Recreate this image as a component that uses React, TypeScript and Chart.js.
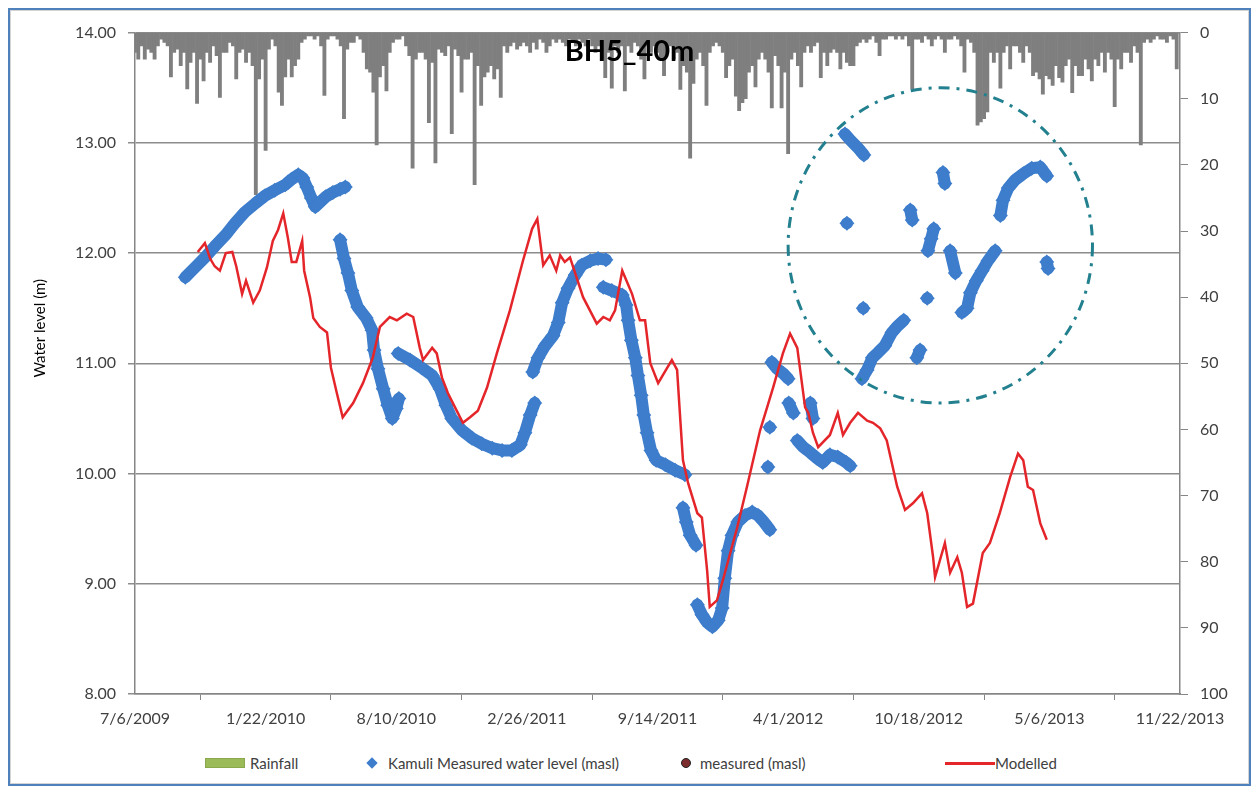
import React, { useEffect, useRef } from "react";
import { Chart, registerables } from "chart.js";

Chart.register(...registerables);

// ---------- DATA ----------
// x values are days since 7/6/2009
const xTickLabels = ["7/6/2009", "1/22/2010", "8/10/2010", "2/26/2011", "9/14/2011", "4/1/2012", "10/18/2012", "5/6/2013", "11/22/2013"];
const xTickStepDays = 200;
const xMaxDay = 1600;

const leftTicksMin = 8;
const leftTicksMax = 14;
const rightTicksMin = 0;
const rightTicksMax = 100;

// Rainfall (mm), one bar every 5 days from 7/6/2009
const rainStepDays = 5;
const rainfall = [
  3, 4, 2, 4, 2.5, 3, 4, 2, 1, 1.5,
  2, 6.7, 3, 2.5, 5, 3, 8.5, 4.5, 3, 10.7,
  4, 7.3, 3, 4.5, 2, 3.5, 9.8, 3, 3, 1.5,
  2, 7, 3, 2.5, 4.5, 3, 5, 24.5, 7, 4,
  17.8, 2.5, 1, 2, 9, 11, 6.7, 4, 6.7, 5,
  4, 1.5, 1, 0.5, 0.5, 1, 0.5, 2, 9.5, 1,
  0.5, 0.5, 1, 2, 13, 2.5, 1.5, 1.5, 0.5, 1,
  3, 5.5, 6, 9, 17, 6.7, 5, 8.8, 3, 1.5,
  1, 1, 0.5, 2, 3.5, 20.5, 4, 3, 3, 4,
  13.6, 4.5, 19.7, 2.5, 3, 3.5, 2, 15.3, 2.5, 3.5,
  9, 4, 4, 3, 23, 5, 11, 6.7, 6, 5,
  7, 5.5, 9.8, 2, 3, 2, 1.5, 2.5, 2, 1.5,
  2, 3, 1.5, 2.5, 1, 1.5, 3, 2, 1, 1.5,
  1, 1.5, 2, 1, 1.5, 2, 1, 1.5, 2, 1,
  2, 3, 2, 4, 6.8, 3, 8.4, 2, 3, 2,
  8.8, 2, 3, 1.5, 2, 4, 7, 2, 3, 2,
  3, 4, 6.5, 3, 2, 4, 3, 8.6, 5, 6,
  19, 7.7, 4, 3, 5, 11, 3, 2, 1.5, 2,
  3, 6.8, 5, 4, 9.6, 11.8, 10.6, 10, 6, 5,
  8.2, 4, 3, 4, 6, 11.4, 3.5, 5, 11.4, 6,
  18.3, 4, 3, 5, 8.2, 3, 2, 3, 2, 1.5,
  6.8, 3, 5, 3, 2.5, 3, 5.5, 3, 4.5, 5,
  5, 2, 1.5, 1, 1.5, 1, 0.5, 1.5, 3.5, 1,
  1, 0.5, 0.5, 1, 0.5, 1, 0.5, 2, 8.5, 1,
  1, 1.5, 0.5, 1, 2, 1, 0.5, 1, 3, 1,
  1, 0.5, 1, 2, 6, 1, 1.5, 3, 14, 13.5,
  13, 12, 3, 4.5, 3, 8.4, 3, 2, 5.5, 2,
  2, 3, 4.5, 2, 3, 6.5, 6, 7, 9.3, 6.5,
  7, 8, 5, 6.8, 7.5, 5, 4, 9.1, 5, 6.5,
  6.5, 4, 5.5, 7.3, 4, 5, 3, 6, 3, 4,
  11.2, 4, 5.5, 3, 3, 4.5, 2, 3, 17, 1.5,
  1, 1.5, 1, 0.5, 1, 1, 1.5, 0.5, 1, 5.5,
];

// Kamuli measured water level (masl); null = gap in the record
const measuredDays: (number | null)[] = [
  77, 92, 107, 122, 138, 153, 168, 184, 199, 214, 230, 240, 250, 257, 263, 270, 276, 283, 292, 303, 314, 322, null,
  314, 320, 326, 332, 341, 354, 363, 366, 372, 380, 387, 394, 400, 404, null,
  403, 421, 439, 455, 467, 476, 485, 501, 516, 531, 547, 562, 577, 590, 597, 605, 612, null,
  609, 617, 628, 640, 648, 654, 663, 674, 684, 697, 709, 721, null,
  717, 730, 746, 752, 755, 760, 766, 770, 775, 779, 784, 790, 798, 812, 827, 842, null,
  839, 844, 850, 859, null,
  861, 868, 876, 884, 893, 899, 903, 908, 914, 923, 934, 945, 954, 963, 972, null,
  975, 983, 992, 1000, null,
  972, null,
  969, null,
  1001, 1008, null,
  1034, 1038, null,
  1014, 1023, 1034, 1044, 1053, 1064, 1076, 1089, 1095, null,
  1087, 1096, 1106, 1116, null,
  1090, null,
  1113, 1121, 1129, 1138, 1148, 1159, 1168, 1177, null,
  1115, null,
  1187, 1190, null,
  1197, 1202, null,
  1213, null,
  1214, 1219, 1223, null,
  1237, 1240, null,
  1248, 1256, null,
  1266, 1274, 1279, 1288, 1297, 1306, 1317, null,
  1325, 1329, 1337, 1347, 1360, 1373, 1386, 1396, null,
  1396, 1398,
];
const measuredLevels: (number | null)[] = [
  11.78, 11.87, 11.96, 12.06, 12.16, 12.27, 12.37, 12.45, 12.52, 12.57, 12.62, 12.67, 12.71, 12.68, 12.6, 12.5, 12.42, 12.46, 12.51, 12.55, 12.58, 12.6, null,
  12.12, 11.95, 11.82, 11.66, 11.51, 11.41, 11.3, 11.12, 10.95, 10.77, 10.62, 10.5, 10.59, 10.68, null,
  11.09, 11.03, 10.96, 10.89, 10.77, 10.62, 10.5, 10.39, 10.32, 10.27, 10.23, 10.21, 10.21, 10.26, 10.37, 10.53, 10.64, null,
  10.92, 11.05, 11.16, 11.25, 11.37, 11.55, 11.68, 11.8, 11.89, 11.93, 11.95, 11.94, null,
  11.69, 11.66, 11.62, 11.53, 11.39, 11.21, 11.05, 10.89, 10.71, 10.53, 10.37, 10.21, 10.12, 10.08, 10.03, 9.99, null,
  9.69, 9.56, 9.44, 9.35, null,
  8.81, 8.72, 8.65, 8.61, 8.67, 8.78, 9.05, 9.3, 9.44, 9.56, 9.62, 9.65, 9.62, 9.56, 9.49, null,
  11.01, 10.95, 10.91, 10.86, null,
  10.42, null,
  10.06, null,
  10.64, 10.55, null,
  10.64, 10.5, null,
  10.3, 10.24, 10.19, 10.14, 10.1, 10.17, 10.15, 10.1, 10.07, null,
  13.08, 13.02, 12.96, 12.89, null,
  12.27, null,
  10.86, 10.94, 11.05, 11.1, 11.16, 11.28, 11.34, 11.39, null,
  11.5, null,
  12.39, 12.3, null,
  11.05, 11.12, null,
  11.59, null,
  12.02, 12.13, 12.22, null,
  12.73, 12.63, null,
  12.02, 11.82, null,
  11.46, 11.5, 11.64, 11.75, 11.84, 11.93, 12.02, null,
  12.34, 12.48, 12.59, 12.66, 12.72, 12.77, 12.78, 12.7, null,
  11.92, 11.86,
];

// Modelled water level
const modelledDays = [
  96, 107, 115, 122, 130, 139, 149, 155, 164, 170, 181, 191, 202, 211, 219, 227, 234, 240, 247, 256,
  259, 268, 273, 283, 294, 300, 309, 318, 334, 349, 364, 375, 390, 401, 416, 426, 436, 441, 455, 462,
  470, 479, 490, 502, 513, 525, 539, 554, 574, 594, 608, 616, 625, 635, 645, 651, 658, 666, 686, 707,
  717, 727, 735, 746, 761, 773, 781, 789, 801, 815, 822, 830, 835, 839, 847, 861, 868, 876, 880, 891,
  900, 922, 937, 957, 977, 992, 1003, 1014, 1018, 1026, 1031, 1038, 1046, 1064, 1076, 1084, 1095, 1107, 1121, 1130,
  1141, 1151, 1167, 1179, 1191, 1205, 1213, 1222, 1225, 1240, 1248, 1259, 1266, 1274, 1283, 1298, 1309, 1324, 1340, 1352,
  1360, 1367, 1375, 1386, 1396,
];
const modelledLevels = [
  12.01, 12.09, 11.95, 11.88, 11.84, 12.0, 12.01, 11.88, 11.63, 11.75, 11.55, 11.66, 11.87, 12.11, 12.21, 12.36, 12.14, 11.92, 11.92, 12.11,
  11.84, 11.6, 11.41, 11.33, 11.28, 10.96, 10.73, 10.51, 10.64, 10.82, 11.05, 11.33, 11.42, 11.39, 11.45, 11.42, 11.14, 11.03, 11.14, 11.09,
  10.87, 10.73, 10.6, 10.46, 10.51, 10.57, 10.78, 11.09, 11.48, 11.93, 12.22, 12.31, 11.89, 11.98, 11.84, 11.98, 11.92, 11.96, 11.6, 11.36,
  11.42, 11.39, 11.48, 11.84, 11.63, 11.39, 11.39, 11.0, 10.82, 10.96, 11.03, 10.94, 10.48, 10.12, 9.91, 9.64, 9.6, 9.12, 8.79, 8.85,
  9.03, 9.51, 9.88, 10.39, 10.78, 11.09, 11.27, 11.14, 10.96, 10.6, 10.55, 10.37, 10.24, 10.35, 10.55, 10.35, 10.46, 10.55, 10.48, 10.46,
  10.41, 10.3, 9.88, 9.67, 9.73, 9.82, 9.64, 9.24, 9.06, 9.37, 9.1, 9.24, 9.1, 8.79, 8.82, 9.28, 9.37, 9.64, 9.97, 10.18,
  10.12, 9.88, 9.85, 9.55, 9.4,
];

// dash-dot ellipse highlighting the scattered measurements (data units)
const circleCenterDay = 1233;
const circleCenterLevel = 12.07;
const circleRadiusDays = 233;
const circleRadiusLevel = 1.43;

const chartTitle = "BH5_40m";
const yTitle = "Water level (m)";
const seriesNames = ["Rainfall", "Kamuli Measured water level (masl)", "measured (masl)", "Modelled"];

// ---------- STYLE ----------
const FONT = "Lato, 'Liberation Sans', sans-serif";
const TEXT = "#404040";
const AXIS = "#868686";
const GRID = "#8c8c8c";
const BLUE = "#3d7dcc";
const RED = "#e4262b";
const RAIN_GRAY = "#7f7f7f";
const RAIN_LEGEND = "#9bbb59";
const CIRCLE = "#23808f";

const titlePlugin = {
  id: "insideTitle",
  afterDatasetsDraw(chart: any) {
    const { ctx, chartArea } = chart;
    ctx.save();
    ctx.font = `bold 29px ${FONT}`;
    ctx.fillStyle = "#000";
    ctx.textAlign = "center";
    ctx.textBaseline = "middle";
    ctx.fillText(chartTitle, chart.width / 2, chartArea.top + 19);
    // y axis title (Excel places it slightly above the axis middle)
    ctx.save();
    ctx.translate(chartArea.left - 95, chartArea.top + (chartArea.bottom - chartArea.top) * 0.447);
    ctx.rotate(-Math.PI / 2);
    ctx.font = `15px ${FONT}`;
    ctx.fillStyle = "#000";
    ctx.fillText(yTitle, 0, 0);
    ctx.restore();
    ctx.restore();
  },
};

const circlePlugin = {
  id: "dashCircle",
  afterDatasetsDraw(chart: any) {
    const { ctx } = chart;
    const xs = chart.scales.x;
    const ys = chart.scales.y;
    const cx = xs.getPixelForValue(circleCenterDay);
    const cy = ys.getPixelForValue(circleCenterLevel);
    const rx = Math.abs(xs.getPixelForValue(circleCenterDay + circleRadiusDays) - cx);
    const ry = Math.abs(ys.getPixelForValue(circleCenterLevel + circleRadiusLevel) - cy);
    ctx.save();
    ctx.beginPath();
    ctx.ellipse(cx, cy, rx, ry, 0, 0, Math.PI * 2);
    ctx.setLineDash([11, 7, 3, 7]);
    ctx.lineWidth = 3;
    ctx.strokeStyle = CIRCLE;
    ctx.stroke();
    ctx.restore();
  },
};

function ChartCanvas() {
  const ref = useRef<HTMLCanvasElement | null>(null);
  useEffect(() => {
    if (!ref.current) return;
    const rainData = rainfall.map((v, i) => ({ x: i * rainStepDays, y: v }));
    const measuredData = measuredDays.map((d, i) => ({
      x: d === null ? (measuredDays[i - 1] as number) : d,
      y: measuredLevels[i],
    }));
    const modelledData = modelledDays.map((d, i) => ({ x: d, y: modelledLevels[i] }));
    const tickFont = { family: FONT, size: 16 };

    const chart = new Chart(ref.current, {
      type: "line",
      data: {
        datasets: [
          {
            type: "bar",
            label: seriesNames[0],
            data: rainData,
            yAxisID: "y2",
            backgroundColor: RAIN_GRAY,
            borderWidth: 0,
            barThickness: 3.2,
            order: 4,
          } as any,
          {
            type: "line",
            label: seriesNames[1],
            data: measuredData,
            yAxisID: "y",
            borderColor: BLUE,
            backgroundColor: BLUE,
            borderWidth: 12,
            borderCapStyle: "round",
            borderJoinStyle: "round",
            pointStyle: "rectRot",
            pointRadius: 7.5,
            pointBorderWidth: 0,
            spanGaps: false,
            tension: 0,
            order: 3,
          },
          {
            type: "line",
            label: seriesNames[2],
            data: [],
            yAxisID: "y",
            borderColor: "#222",
            backgroundColor: "#7b2c2c",
            pointStyle: "circle",
            showLine: false,
            order: 2,
          },
          {
            type: "line",
            label: seriesNames[3],
            data: modelledData,
            yAxisID: "y",
            borderColor: RED,
            borderWidth: 2.5,
            pointRadius: 0,
            tension: 0,
            order: 1,
          },
        ],
      },
      options: {
        animation: false,
        responsive: true,
        maintainAspectRatio: false,
        layout: { padding: { top: 21, left: 0, right: 0, bottom: 0 } },
        plugins: {
          legend: { display: false },
          tooltip: { enabled: false },
          title: { display: false },
        },
        scales: {
          x: {
            type: "linear",
            min: 0,
            max: xMaxDay,
            offset: false,
            ticks: {
              stepSize: xTickStepDays,
              autoSkip: false,
              maxRotation: 0,
              minRotation: 0,
              color: TEXT,
              font: tickFont,
              padding: 9,
              callback: (v: any) => xTickLabels[Math.round(Number(v) / xTickStepDays)] ?? "",
            },
            grid: { drawOnChartArea: false, drawTicks: true, tickLength: 6, color: AXIS, lineWidth: 1 },
            border: { color: AXIS, width: 1.5 },
            afterFit: (s: any) => {
              s.height = 52;
            },
          },
          y: {
            position: "left",
            min: leftTicksMin,
            max: leftTicksMax,
            ticks: {
              stepSize: 1,
              color: TEXT,
              font: tickFont,
              padding: 12,
              callback: (v: any) => Number(v).toFixed(2),
            },
            grid: { color: GRID, lineWidth: 1.5, tickLength: 7 },
            border: { color: AXIS, width: 1.5 },
            afterFit: (s: any) => {
              s.width = 124;
            },
          },
          y2: {
            position: "right",
            min: rightTicksMin,
            max: rightTicksMax,
            reverse: true,
            ticks: { stepSize: 10, color: TEXT, font: tickFont, padding: 12 },
            grid: { drawOnChartArea: false, tickLength: 8, color: AXIS },
            border: { color: AXIS, width: 1.5 },
            afterFit: (s: any) => {
              s.width = 68;
            },
          },
        },
      } as any,
      plugins: [titlePlugin, circlePlugin],
    });
    return () => chart.destroy();
  }, []);
  return (
    <div style={{ position: "relative", width: 1237, height: 735 }}>
      <canvas ref={ref} />
    </div>
  );
}

function Legend() {
  const text: React.CSSProperties = {
    position: "absolute",
    top: 8,
    fontFamily: FONT,
    fontSize: 15,
    color: TEXT,
    lineHeight: "18px",
    whiteSpace: "nowrap",
  };
  return (
    <div style={{ position: "relative", width: 1237, height: 34 }}>
      <div style={{ position: "absolute", left: 194, top: 12, width: 40, height: 10, background: RAIN_LEGEND, boxSizing: "border-box", border: "1px solid #8aa84c" }} />
      <div style={{ ...text, left: 239 }}>{seriesNames[0]}</div>
      <div style={{ position: "absolute", left: 357, top: 13, width: 8, height: 8, background: BLUE, transform: "rotate(45deg)" }} />
      <div style={{ ...text, left: 377 }}>{seriesNames[1]}</div>
      <div style={{ position: "absolute", left: 670, top: 12, width: 10, height: 10, borderRadius: "50%", background: "#7b2c2c", boxSizing: "border-box", border: "1.5px solid #222" }} />
      <div style={{ ...text, left: 689 }}>{seriesNames[2]}</div>
      <div style={{ position: "absolute", left: 934, top: 16, width: 50, height: 3, background: RED }} />
      <div style={{ ...text, left: 984 }}>{seriesNames[3]}</div>
    </div>
  );
}

export default function App() {
  return (
    <div
      style={{
        width: 1243,
        height: 778,
        boxSizing: "border-box",
        border: "2px solid #4f81bd",
        background: "#fff",
      }}
    >
      <div style={{ boxSizing: "border-box", height: "100%", border: "1px solid #d4d4d4" }}>
        <ChartCanvas />
        <Legend />
      </div>
    </div>
  );
}
